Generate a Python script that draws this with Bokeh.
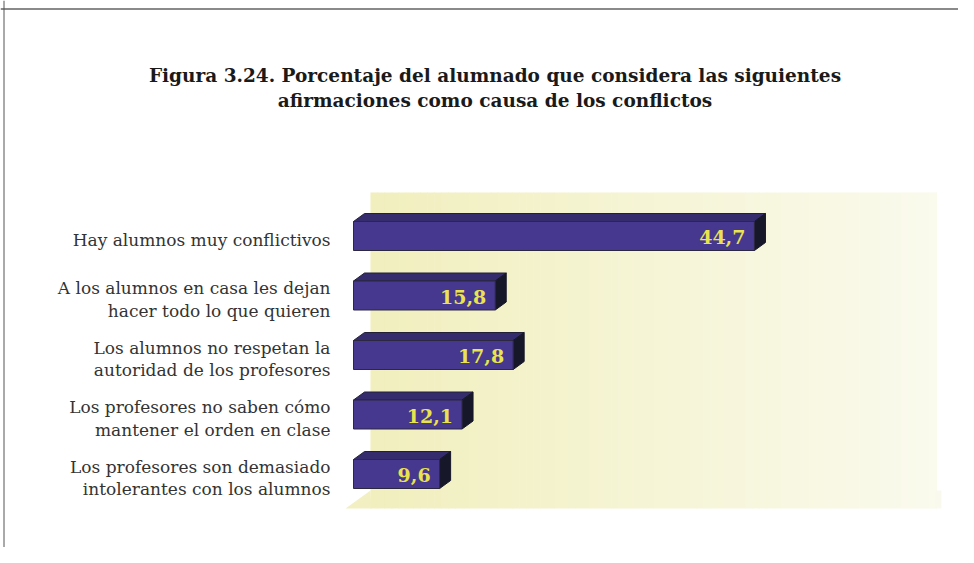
from bokeh.plotting import figure
from bokeh.models import Range1d, Label, Span
from bokeh.embed import file_html
from bokeh.resources import INLINE
from bokeh.core.properties import value

# ---------------- data ----------------
categories = [
    "Hay alumnos muy conflictivos",
    "A los alumnos en casa les dejan\nhacer todo lo que quieren",
    "Los alumnos no respetan la\nautoridad de los profesores",
    "Los profesores no saben cómo\nmantener el orden en clase",
    "Los profesores son demasiado\nintolerantes con los alumnos",
]
values = [44.7, 15.8, 17.8, 12.1, 9.6]
value_labels = ["44,7", "15,8", "17,8", "12,1", "9,6"]
title_lines = [
    "Figura 3.24. Porcentaje del alumnado que considera las siguientes",
    "afirmaciones como causa de los conflictos",
]

# ---------------- layout ----------------
W, H = 958, 547
PX_PER_UNIT = 8.97           # horizontal pixels per percent
ZERO_X = 353                 # pixel of value 0
ROW_PX = 59.5                # pixels between bar rows
ROW0_Y = 235.5               # pixel of first row centre


def ux(xref):
    return (xref - ZERO_X) / PX_PER_UNIT


def uy(yref):
    return (yref - ROW0_Y) / ROW_PX


x_range = Range1d(ux(0), ux(W))
y_range = Range1d(uy(H), uy(0))   # inverted: row 0 at top

p = figure(width=W, height=H, x_range=x_range, y_range=y_range,
           output_backend="svg", toolbar_location=None,
           x_axis_type=None, y_axis_type=None,
           min_border_left=0, min_border_right=0,
           min_border_top=0, min_border_bottom=0)
p.grid.visible = False
p.outline_line_color = None
p.background_fill_color = "white"
p.border_fill_color = "white"

# ---------------- background panel (gradient) ----------------
c0 = (241, 239, 190)
c1 = (250, 250, 237)
N = 80
px_l, px_r = 370, 936
py_t, py_b = 192, 508
lefts, rights, cols = [], [], []
for k in range(N):
    a = px_l + (px_r - px_l) * k / N
    b = px_l + (px_r - px_l) * (k + 1) / N + 0.6
    t = k / (N - 1)
    col = "#%02x%02x%02x" % tuple(int(round(c0[j] + (c1[j] - c0[j]) * t)) for j in range(3))
    lefts.append(ux(a)); rights.append(ux(b)); cols.append(col)
p.quad(left=lefts, right=rights, top=uy(py_t), bottom=uy(py_b),
       fill_color=cols, line_color=None)
# floor edges
p.patch(x=[ux(345), ux(370), ux(371)], y=[uy(508), uy(490), uy(508)],
        fill_color="#f2f0c2", line_color=None)
p.quad(left=ux(935), right=ux(941), top=uy(490), bottom=uy(508),
       fill_color="#faf9ee", line_color=None)

# ---------------- 3D bars ----------------
BAR_H = 29 / ROW_PX
DX = 11 / PX_PER_UNIT
DY = 8 / ROW_PX
idx = list(range(len(values)))
tops = [i - BAR_H / 2 for i in idx]
bots = [i + BAR_H / 2 for i in idx]

top_xs = [[0, v, v + DX, DX] for v in values]
top_ys = [[t, t, t - DY, t - DY] for t in tops]
side_xs = [[v, v + DX, v + DX, v] for v in values]
side_ys = [[t, t - DY, b - DY, b] for t, b in zip(tops, bots)]

p.patches(top_xs, top_ys, fill_color="#342c6c", line_color="#23203a", line_width=1)
p.patches(side_xs, side_ys, fill_color="#17172a", line_color="#17172a", line_width=1)
p.quad(left=0, right=values, top=tops, bottom=bots,
       fill_color="#46378f", line_color="#2b2840", line_width=1)

# value labels
p.text(x=values, y=idx, text=value_labels, text_align="right",
       text_baseline="middle", x_offset=-9, y_offset=1,
       text_font=value("DejaVu Serif"), text_font_style="bold",
       text_font_size="19px", text_color="#e9e34e")

# category labels
p.text(x=[0] * len(idx), y=idx, text=categories, text_align="right",
       text_baseline="middle", x_offset=-23, y_offset=4,
       text_font=value("DejaVu Serif"), text_font_size="17px",
       text_color="#333333", text_line_height=1.12)

# ---------------- title ----------------
for line, yref in zip(title_lines, [75, 100]):
    p.add_layout(Label(x=494.5, y=H - yref, x_units="screen",
                       y_units="screen", text=line, text_align="center",
                       text_baseline="middle", text_font="DejaVu Serif",
                       text_font_style="bold", text_font_size="18.5px",
                       text_color="#1a1a1a"))

# frame lines
p.add_layout(Span(location=uy(8.5), dimension="width",
                  line_color="#8a8a8a", line_width=2))
p.add_layout(Span(location=ux(3.5), dimension="height",
                  line_color="#555555", line_width=1))

open("out.html", "w").write(file_html(p, INLINE))
